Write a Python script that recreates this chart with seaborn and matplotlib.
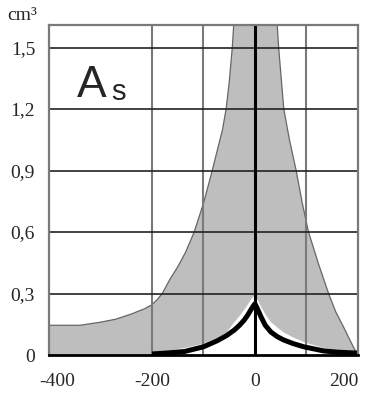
import numpy as np
import matplotlib
matplotlib.use("Agg")
import matplotlib.pyplot as plt
import matplotlib.transforms as mtransforms
import seaborn as sns

# upper edge of the grey band
upper_x = [-400, -370, -340, -300, -270, -240, -215, -200, -190, -180, -165, -150,
           -135, -118, -100, -85, -73, -63, -56, -50, -44, -40,
           42, 46, 51, 56, 67, 80, 92, 104, 124, 143, 157, 172, 185, 195, 200]
upper_y = [0.145, 0.145, 0.145, 0.16, 0.175, 0.2, 0.225, 0.245, 0.27, 0.3, 0.37, 0.43,
           0.5, 0.6, 0.74, 0.88, 1.0, 1.1, 1.2, 1.33, 1.5, 1.66,
           1.66, 1.5, 1.35, 1.2, 1.05, 0.9, 0.74, 0.6, 0.44, 0.3, 0.21, 0.137, 0.07, 0.02, 0.0]

# lower edge of the grey band
lower_x = [-400, -200, -170, -137, -100, -73, -55, -40, -30, -21, -14, -8, -3, 0,
           5, 12, 20, 31, 43, 56, 75, 95, 133, 170, 200]
lower_y = [0.0, 0.0, 0.02, 0.034, 0.055, 0.085, 0.11, 0.16, 0.19, 0.22, 0.245, 0.27, 0.285, 0.29,
           0.27, 0.235, 0.2, 0.16, 0.135, 0.11, 0.085, 0.063, 0.034, 0.018, 0.01]

# thick black curve
curve_x = [-200, -170, -137, -100, -73, -55, -40, -30, -21, -14, -8, -3, 0,
           4, 12, 20, 31, 43, 56, 75, 95, 133, 160, 191, 200]
curve_y = [0.005, 0.01, 0.017, 0.04, 0.07, 0.095, 0.122, 0.145, 0.17, 0.195, 0.22, 0.24, 0.25,
           0.23, 0.185, 0.145, 0.112, 0.09, 0.073, 0.055, 0.04, 0.02, 0.014, 0.01, 0.01]

x_ticks = [-400, -200, 0, 200]
x_labels = ["-400", "-200", "0", "200"]
y_ticks = [0, 0.3, 0.6, 0.9, 1.2, 1.5]
y_labels = ["0", "0,3", "0,6", "0,9", "1,2", "1,5"]
v_grid = [-200, -100, 100]


def main():
    sns.set_style("white")
    plt.rcParams['font.family'] = ['Liberation Serif', 'DejaVu Serif']

    fig = plt.figure(figsize=(3.7, 4.0), dpi=100)
    ax = fig.add_axes([0.1324, 0.1125, 0.835, 0.825])

    # grey band as one polygon
    poly_x = list(upper_x) + list(lower_x[::-1])
    poly_y = list(upper_y) + list(lower_y[::-1])
    ax.fill(poly_x, poly_y, color="#bebebe", lw=0, zorder=1)
    sns.lineplot(x=upper_x, y=upper_y, ax=ax, color="#666666", lw=0.9,
                 sort=False, estimator=None, zorder=2)

    # grid
    for v in v_grid:
        ax.axvline(v, color="#7a7a7a", lw=1.5, zorder=3)
    for h in y_ticks[1:]:
        ax.axhline(h, color="#222222", lw=1.2, zorder=3)

    ax.axvline(0, color="black", lw=2.2, zorder=5)
    sns.lineplot(x=curve_x, y=curve_y, ax=ax, color="black", lw=3.6,
                 sort=False, estimator=None, zorder=6, solid_capstyle="butt")

    ax.set_xlim(-400, 200)
    ax.set_ylim(0, 1.61)
    ax.set_xticks(x_ticks)
    ax.set_xticklabels(x_labels, fontsize=14)
    ax.set_yticks(y_ticks)
    ax.set_yticklabels(y_labels, fontsize=14)
    ax.tick_params(length=0, pad=10)
    ax.tick_params(axis="x", pad=13)

    lbls = ax.get_xticklabels()
    lbls[0].set_transform(lbls[0].get_transform() +
                          mtransforms.ScaledTranslation(8 / 100, 0, fig.dpi_scale_trans))
    lbls[-1].set_transform(lbls[-1].get_transform() +
                           mtransforms.ScaledTranslation(-14 / 100, 0, fig.dpi_scale_trans))

    for side in ["left", "top", "right"]:
        ax.spines[side].set_color("#7a7a7a")
        ax.spines[side].set_linewidth(1.6)
    ax.spines["bottom"].set_color("black")
    ax.spines["bottom"].set_linewidth(2.0)
    for sp in ax.spines.values():
        sp.set_zorder(7)

    fig.text(7 / 370, 1 - 15 / 400, "cm³", fontsize=14, ha="left", va="center")

    ax.text(0.09, 0.783, "A", transform=ax.transAxes, fontsize=32,
            family=["Liberation Sans", "DejaVu Sans"], ha="left", va="baseline", zorder=8)
    ax.text(0.2, 0.772, "s", transform=ax.transAxes, fontsize=21,
            family=["Liberation Sans", "DejaVu Sans"], ha="left", va="baseline", zorder=8)

    plt.savefig("out.png", dpi=100)


if __name__ == "__main__":
    main()
